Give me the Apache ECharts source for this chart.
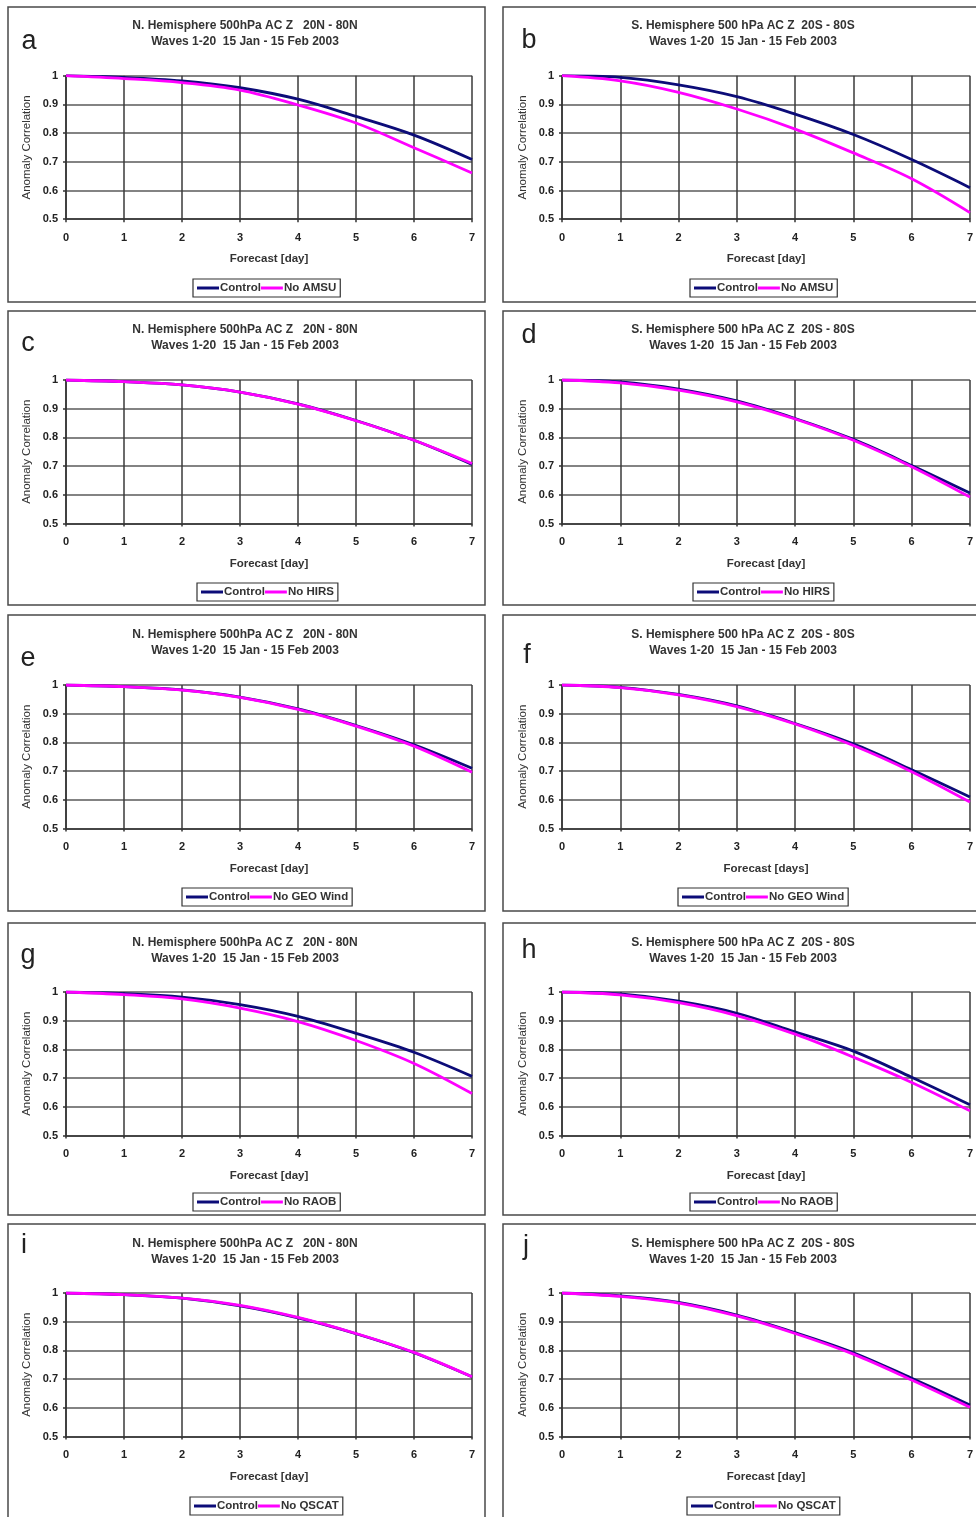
<!DOCTYPE html>
<html>
<head>
<meta charset="utf-8">
<script src="https://cdn.jsdelivr.net/npm/echarts@6/dist/echarts.min.js"></script>
<style>
html,body{margin:0;padding:0;background:#fff;}
#chart{width:976px;height:1517px;}
</style>
</head>
<body>
<div id="chart"></div>
<script>
// ---- data ----
const days = [0, 1, 2, 3, 4, 5, 6, 7];
const yTicks = [0.5, 0.6, 0.7, 0.8, 0.9, 1];
const panelLetters = ['a', 'b', 'c', 'd', 'e', 'f', 'g', 'h', 'i', 'j'];
const titleNH = 'N. Hemisphere 500hPa AC Z   20N - 80N\nWaves 1-20  15 Jan - 15 Feb 2003';
const titleSH = 'S. Hemisphere 500 hPa AC Z  20S - 80S\nWaves 1-20  15 Jan - 15 Feb 2003';
const controlName = 'Control';
const experimentNames = ['No AMSU', 'No HIRS', 'No GEO Wind', 'No RAOB', 'No QSCAT'];
const xNames = ['Forecast [day]', 'Forecast [day]', 'Forecast [day]', 'Forecast [day]', 'Forecast [day]',
                'Forecast [days]', 'Forecast [day]', 'Forecast [day]', 'Forecast [day]', 'Forecast [day]'];
const yName = 'Anomaly Correlation';

// Panel a / b : No AMSU
const controlA = [1, 0.994, 0.982, 0.958, 0.918, 0.858, 0.793, 0.708];
const noAmsuA  = [1, 0.990, 0.976, 0.950, 0.898, 0.835, 0.749, 0.661];
const controlB = [1, 0.994, 0.968, 0.927, 0.866, 0.795, 0.708, 0.610];
const noAmsuB  = [1, 0.982, 0.942, 0.884, 0.814, 0.731, 0.641, 0.523];
// Panel c / d : No HIRS
const controlC = [1, 0.994, 0.983, 0.958, 0.917, 0.859, 0.790, 0.706];
const noHirsC  = [1, 0.994, 0.983, 0.958, 0.916, 0.858, 0.790, 0.709];
const controlD = [1, 0.993, 0.968, 0.927, 0.866, 0.793, 0.702, 0.606];
const noHirsD  = [1, 0.990, 0.965, 0.924, 0.864, 0.790, 0.698, 0.592];
// Panel e / f : No GEO Wind
const controlE = [1, 0.994, 0.983, 0.958, 0.917, 0.859, 0.792, 0.710];
const noGeoE   = [1, 0.994, 0.982, 0.957, 0.915, 0.857, 0.787, 0.696];
const controlF = [1, 0.992, 0.967, 0.927, 0.866, 0.795, 0.705, 0.610];
const noGeoF   = [1, 0.991, 0.966, 0.925, 0.864, 0.789, 0.698, 0.592];
// Panel g / h : No RAOB
const controlG = [1, 0.994, 0.982, 0.956, 0.915, 0.856, 0.790, 0.706];
const noRaobG  = [1, 0.991, 0.976, 0.944, 0.897, 0.831, 0.751, 0.646];
const controlH = [1, 0.993, 0.968, 0.926, 0.861, 0.794, 0.703, 0.607];
const noRaobH  = [1, 0.990, 0.963, 0.918, 0.853, 0.773, 0.685, 0.586];
// Panel i / j : No QSCAT
const controlI = [1, 0.994, 0.982, 0.955, 0.913, 0.858, 0.792, 0.708];
const noQscatI = [1, 0.994, 0.982, 0.957, 0.915, 0.859, 0.793, 0.708];
const controlJ = [1, 0.990, 0.967, 0.923, 0.862, 0.792, 0.703, 0.610];
const noQscatJ = [1, 0.988, 0.965, 0.920, 0.859, 0.787, 0.697, 0.602];

const controls = [controlA, controlB, controlC, controlD, controlE, controlF, controlG, controlH, controlI, controlJ];
const experiments = [noAmsuA, noAmsuB, noHirsC, noHirsD, noGeoE, noGeoF, noRaobG, noRaobH, noQscatI, noQscatJ];

// ---- layout ----
const colPanelLeft = [8, 503];
const colPanelWidth = [477, 485];
const colTitleCenter = [245, 743];
const colPlotLeft = [66, 562];
const colPlotWidth = [406, 408];
const rowPanelTop = [7, 311, 615, 923, 1224];
const rowPanelBottom = [302, 605, 911, 1215, 1530];
const rowPlotTop = [75.7, 380, 685, 992, 1293];
const plotHeight = 143.5;
const rowTitleTop = [18, 322, 627, 935, 1236];
const legendBoxLeft = [193, 690, 197, 693, 182, 678, 193, 690, 190, 687];
const rowLegendTop = [279, 583, 888, 1193, 1497];
const letterPos = [[29, 42], [529, 41], [28, 344], [529, 336], [28, 659], [527, 656], [28, 956], [529, 951], [24, 1246], [526, 1247]];

const FONT = 'Arial, "Liberation Sans", "Helvetica", sans-serif';
const NAVY = '#0c0c78';
const PINK = '#ff00ff';

const grids = [], xAxes = [], yAxes = [], series = [], titles = [], legends = [], graphics = [];

for (let p = 0; p < 10; p++) {
  const col = p % 2, row = Math.floor(p / 2);
  graphics.push({
    type: 'rect', silent: true, z: 0,
    shape: { x: colPanelLeft[col], y: rowPanelTop[row], width: colPanelWidth[col], height: rowPanelBottom[row] - rowPanelTop[row] },
    style: { fill: '#fff', stroke: '#4a4a4a', lineWidth: 1.5 }
  });
  graphics.push({
    type: 'text', silent: true, z: 10,
    x: letterPos[p][0], y: letterPos[p][1],
    style: { text: panelLetters[p], font: '27px ' + FONT, fill: '#222', align: 'center', verticalAlign: 'middle' }
  });
  titles.push({
    text: col === 0 ? titleNH : titleSH,
    left: colTitleCenter[col],
    top: rowTitleTop[row],
    padding: 0,
    textAlign: 'center',
    textStyle: { fontFamily: FONT, fontSize: 12, fontWeight: 'bold', color: '#333', lineHeight: 16 }
  });
  grids.push({ left: colPlotLeft[col], top: rowPlotTop[row], width: colPlotWidth[col], height: plotHeight, containLabel: false });
  xAxes.push({
    type: 'value', gridIndex: p, min: 0, max: 7, interval: 1,
    name: xNames[p], nameLocation: 'middle', nameGap: 34,
    nameTextStyle: { fontFamily: FONT, fontSize: 11.5, fontWeight: 'bold', color: '#333' },
    axisLine: { show: true, onZero: false, lineStyle: { color: '#333', width: 1.5 } },
    axisTick: { show: true, length: 3, lineStyle: { color: '#333', width: 1.5 } },
    axisLabel: { fontFamily: FONT, fontSize: 11, fontWeight: 'bold', color: '#222', margin: 13 },
    splitLine: { show: true, lineStyle: { color: '#3a3a3a', width: 1.5 } }
  });
  yAxes.push({
    type: 'value', gridIndex: p, min: 0.5, max: 1, interval: 0.1,
    name: yName, nameLocation: 'middle', nameGap: 33, nameRotate: 90,
    nameTextStyle: { fontFamily: FONT, fontSize: 11.5, color: '#333' },
    axisLine: { show: true, onZero: false, lineStyle: { color: '#333', width: 1.5 } },
    axisTick: { show: true, length: 3, lineStyle: { color: '#333', width: 1.5 } },
    axisLabel: { fontFamily: FONT, fontSize: 11, fontWeight: 'bold', color: '#222', margin: 8,
                 formatter: v => String(+v.toFixed(1)) },
    splitLine: { show: true, lineStyle: { color: '#5a5a5a', width: 1.5 } }
  });
  const expName = experimentNames[row];
  series.push({
    name: controlName, type: 'line', xAxisIndex: p, yAxisIndex: p,
    data: days.map((d, i) => [d, controls[p][i]]),
    smooth: 0.35, symbol: 'none', lineStyle: { color: NAVY, width: 2.8 }, itemStyle: { color: NAVY }, z: 3
  });
  series.push({
    name: expName, type: 'line', xAxisIndex: p, yAxisIndex: p,
    data: days.map((d, i) => [d, experiments[p][i]]),
    smooth: 0.35, symbol: 'none', lineStyle: { color: PINK, width: 2.8 }, itemStyle: { color: PINK }, z: 4
  });
  legends.push({
    data: [controlName, expName],
    left: legendBoxLeft[p], top: rowLegendTop[row],
    orient: 'horizontal', icon: 'rect', itemWidth: 22, itemHeight: 3, itemGap: 0,
    padding: [3, 4, 3, 4], borderColor: '#333', borderWidth: 1.2, backgroundColor: '#fff',
    selectedMode: false,
    textStyle: { fontFamily: FONT, fontSize: 11.5, fontWeight: 'bold', color: '#333', padding: [0, 0, 0, -4] }
  });
}

const chart = echarts.init(document.getElementById('chart'), null, { renderer: 'canvas', width: 976, height: 1517 });
chart.setOption({
  backgroundColor: '#fff',
  animation: false,
  graphic: graphics,
  title: titles,
  grid: grids,
  xAxis: xAxes,
  yAxis: yAxes,
  legend: legends,
  series: series
});
</script>
</body>
</html>
